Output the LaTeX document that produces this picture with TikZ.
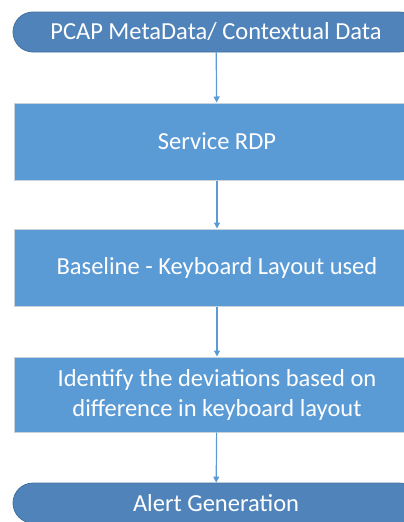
\documentclass[tikz,border=0pt]{standalone}
\usepackage{fontspec}
\setmainfont{Carlito}
\usetikzlibrary{arrows.meta,shapes.misc}
\definecolor{procfill}{HTML}{5B9BD5}
\definecolor{termfill}{HTML}{4F83BA}
\definecolor{termline}{HTML}{41719C}
\definecolor{boxline}{HTML}{C9D3DE}
\begin{document}
\begin{tikzpicture}[x=1pt,y=-1pt,
  term/.style={rounded rectangle, fill=termfill, draw=termline, line width=0.8pt,
    minimum width=406pt, minimum height=40pt, inner sep=0pt,
    text=white, font=\fontsize{24.5}{30}\selectfont},
  procbox/.style={rectangle, fill=procfill, draw=boxline, line width=1pt,
    minimum width=406pt, minimum height=77pt, inner sep=0pt, align=center,
    text=white, font=\fontsize{24.5}{30}\selectfont},
  flow/.style={draw=procfill, line width=1.2pt,
    -{Triangle[width=6pt,length=6pt]}}]
  \useasboundingbox (0,0) rectangle (404,522);
  \clip (0,0) rectangle (404,522);
  \node[term] (src) at (216,32) {PCAP MetaData/ Contextual Data};
  \node[procbox] (rdp) at (217,141.5) {Service RDP};
  \node[procbox] (base) at (217,267.5) {Baseline - Keyboard Layout used};
  \node[procbox, minimum height=75pt] (dev) at (217,394.5)
    {Identify the deviations based on\\difference in keyboard layout};
  \node[term] (alert) at (216,503) {Alert Generation};
  \draw[flow] (src) -- (rdp);
  \draw[flow] (rdp) -- (base);
  \draw[flow] (base) -- (dev);
  \draw[flow] (dev) -- (alert);
\end{tikzpicture}
\end{document}
